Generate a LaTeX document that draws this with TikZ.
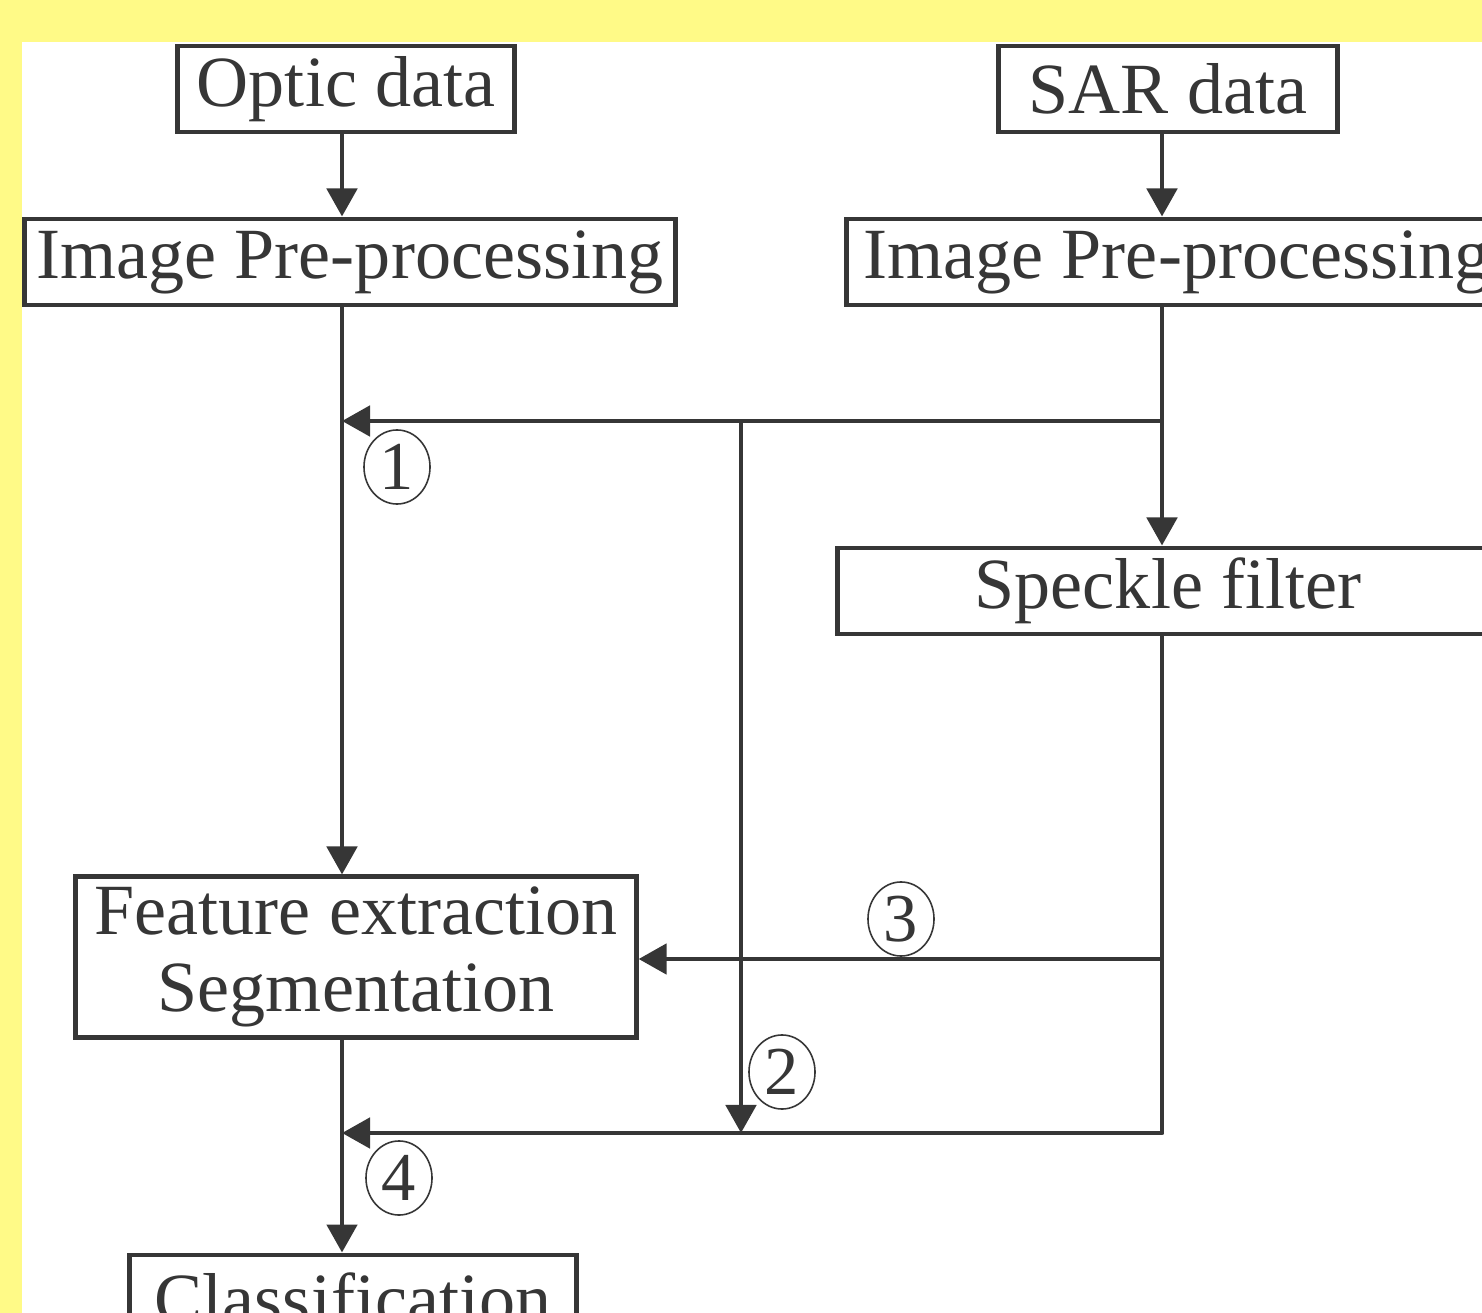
\documentclass[tikz,border=0pt]{standalone}
\usepackage{fontspec}
\setmainfont{Liberation Serif}
\usetikzlibrary{positioning,arrows.meta,shapes.geometric}
\definecolor{ink}{HTML}{363636}
\definecolor{pad}{HTML}{FFFA87}

\begin{document}
\begin{tikzpicture}[x=0.01cm,y=-0.01cm,
  box/.style={draw=ink,line width=1.4pt,inner sep=0pt,minimum height=0.86cm,text=ink,align=center,font=\fontsize{20.5}{22}\selectfont},
  wire/.style={ink,line width=1.4pt,line join=round},
  arr/.style={wire,-{Triangle[length=0.28cm,width=0.3cm]}},
  num/.style={ellipse,draw=ink,line width=0.45pt,inner sep=0pt,minimum width=0.66cm,minimum height=0.74cm,text=ink,font=\fontsize{19.5}{20}\selectfont}]
  \clip (0,0) rectangle (1482,1313);
  \fill[pad] (0,0) rectangle (1482,1313);
  \fill[white] (22,42) rectangle (1482,1313);
  % boxes
  \node[box,minimum width=3.37cm] (optic) at (346,89) {Optic data};
  \node[box,minimum width=3.38cm] (sar) at (1168,89) {SAR data};
  \node[box,minimum width=6.51cm] (prepL) at (350,262) {Image Pre-processing};
  \node[box,minimum width=6.6cm] (prepR) at (1177,262) {Image Pre-processing};
  \node[box,minimum width=6.6cm] (speckle) at (1168,591) {Speckle filter};
  \node[box,minimum width=5.6cm,minimum height=1.6cm] (feat) at (356,957) {Feature extraction\\Segmentation};
  \node[box,minimum width=4.47cm] (classif) at (353,1298) {Classification};
  % columns and rows of the wires
  \coordinate (colL) at (342,0);
  \coordinate (colM) at (741,0);
  \coordinate (colR) at (1162,0);
  \coordinate (row1) at (0,421);
  \coordinate (row3) at (0,959);
  \coordinate (row4) at (0,1133);
  % connectors
  \draw[arr] (colL |- optic.south) -- (colL |- prepL.north);
  \draw[arr] (colR |- sar.south) -- (colR |- prepR.north);
  \draw[arr] (colL |- prepL.south) -- (colL |- feat.north);
  \draw[arr] (colR |- prepR.south) -- (colR |- speckle.north);
  \draw[arr] (colR |- row1) -- (colL |- row1);
  \draw[arr] (colM |- row1) -- (colM |- row4);
  \draw[arr] (colR |- speckle.south) |- (colL |- row4);
  \draw[arr] (colR |- row3) -- (feat.east |- row3);
  \draw[arr] (colL |- feat.south) -- (colL |- classif.north);
  % circled numbers
  \node[num] (n1) at (397,467) {1};
  \node[num] (n2) at (782,1072) {2};
  \node[num] (n3) at (901,919) {3};
  \node[num] (n4) at (399,1178) {4};
\end{tikzpicture}
\end{document}
